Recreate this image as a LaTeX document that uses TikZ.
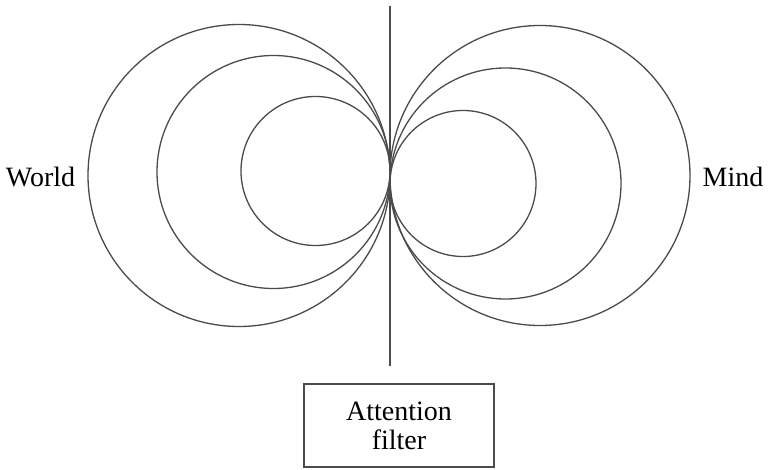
\documentclass[tikz,border=0pt]{standalone}
\usepackage{fontspec}
\setmainfont{Liberation Serif}
\usetikzlibrary{positioning}
\definecolor{ringclr}{RGB}{75, 75, 75}
\tikzset{
  % rings of the two fields
  ringline/.style   = {line width=1.3pt, draw=ringclr},
  % the dividing line
  filterline/.style = {line width=1.3pt, draw=ringclr},
  % labels
  fieldlab/.style   = {font=\fontsize{28}{32}\selectfont, inner sep=0pt, anchor=base},
  filterbox/.style  = {draw=ringclr, line width=1.3pt, minimum width=190pt,
                       minimum height=83pt, align=center,
                       font=\fontsize{28}{29}\selectfont},
}

\begin{document}
\begin{tikzpicture}[x=1pt,y=-1pt]
  \useasboundingbox (0,0) rectangle (768,470);
  % World side
  \foreach \cx/\cy/\r in {239/175.5/151, 273.5/172/116.5, 315.5/171/74.5}
    \draw[ringline] (\cx,\cy) circle[radius=\r pt];
  % Mind side
  \foreach \cx/\cy/\r in {540/175.5/150, 505.5/183.5/115.5, 463/183.5/73}
    \draw[ringline] (\cx,\cy) circle[radius=\r pt];
  % dividing line and filter
  \coordinate (filtertop) at (390,6);
  \coordinate (filterend) at (390,366);
  \draw[filterline] (filtertop) -- (filterend);
  \node[filterbox] (filter) at (399,425.5) {Attention\\filter};
  \node[fieldlab] (world) at (40.5,187) {World};
  \node[fieldlab] (mind) at (733,187) {Mind};
\end{tikzpicture}
\end{document}
